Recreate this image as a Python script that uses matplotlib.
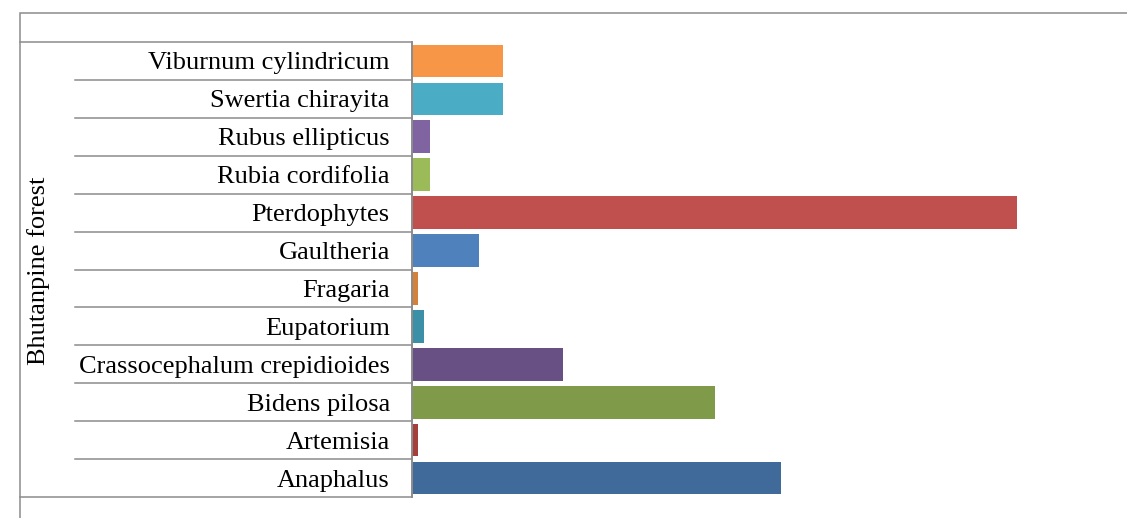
import matplotlib.pyplot as plt
from matplotlib.transforms import blended_transform_factory
from matplotlib.patches import Rectangle

# species, bottom to top
species = ['Anaphalus', 'Artemisia', 'Bidens pilosa', 'Crassocephalum crepidioides',
           'Eupatorium', 'Fragaria', 'Gaultheria', 'Pterdophytes', 'Rubia cordifolia',
           'Rubus ellipticus', 'Swertia chirayita', 'Viburnum cylindricum']
values = [61, 1, 50, 25, 2, 1, 11, 100, 3, 3, 15, 15]
colors = ['#3F6A99', '#A53F3D', '#7F9A48', '#684F84', '#3B8FA6', '#D3813B',
          '#4F81BD', '#C0504D', '#9BBB59', '#8064A2', '#4BACC6', '#F79646']
group = 'Bhutanpine forest'

plt.rcParams['font.family'] = 'Liberation Serif'
W, H = 1127, 518
fig = plt.figure(figsize=(W / 100, H / 100), dpi=100)

# outer chart border
fig.patches.append(Rectangle((20 / W, -0.1), 1.2, 1 - 13 / H + 0.1, transform=fig.transFigure,
                             fill=False, edgecolor='#8c8c8c', linewidth=1.1))

left, right, top, bottom = 412, 1110, 42, 497
ax = fig.add_axes([left / W, (H - bottom) / H, (right - left) / W, (bottom - top) / H])

y = range(len(species))
ax.barh(y, values, height=0.86, color=colors)
ax.set_ylim(-0.5, len(species) - 0.5)
ax.set_xlim(0, (right - left) / 6.05)

for s in ['top', 'right', 'bottom']:
    ax.spines[s].set_visible(False)
ax.spines['left'].set_color('#8c8c8c')
ax.spines['left'].set_linewidth(1.4)
ax.set_xticks([])
ax.set_yticks(list(y))
ax.set_yticklabels(species, fontsize=19)
ax.tick_params(axis='y', length=0, pad=16)

# category separator lines
tr = blended_transform_factory(fig.transFigure, ax.transData)
for i in range(len(species) + 1):
    yy = i - 0.5
    x0 = 20 / W if i in (0, len(species)) else 75 / W
    ax.plot([x0, left / W], [yy, yy], transform=tr, color='#8c8c8c',
            linewidth=1.1, clip_on=False)

fig.text(39 / W, 1 - 271 / H, group, rotation=90, ha='center', va='center', fontsize=19)

plt.savefig('out.png', dpi=100)
